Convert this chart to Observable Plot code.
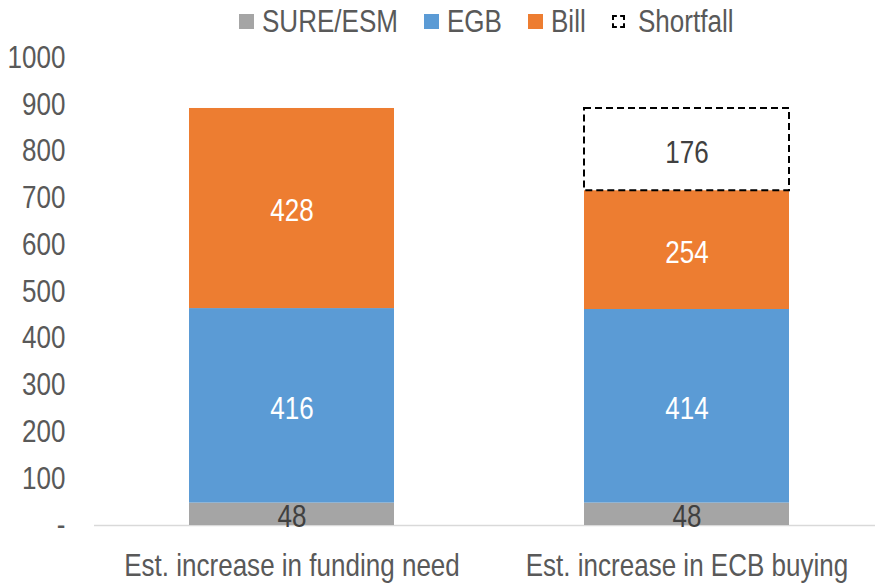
<!DOCTYPE html>
<html><head><meta charset="utf-8">
<script src="https://cdn.jsdelivr.net/npm/d3@7"></script>
<script src="https://cdn.jsdelivr.net/npm/@observablehq/plot@0.6"></script>
<style>
body{margin:0;background:#fff;font-family:"Liberation Sans",Arial,sans-serif;}
#legend{height:40px;display:flex;align-items:center;padding-left:239px;padding-top:3px;color:#595959;font-size:31px;box-sizing:border-box;}
.item{display:flex;align-items:center;margin-right:26px;white-space:nowrap;}
.sw{width:15px;height:15px;margin-right:8px;box-sizing:border-box;flex:none;}
.lt{display:inline-block;transform:scaleX(0.84);transform-origin:0 50%;}
</style></head><body>
<div id="legend"></div>
<div id="chart"></div>
<script>
const categories = ["Est. increase in funding need", "Est. increase in ECB buying"];
const series = ["SURE/ESM", "EGB", "Bill", "Shortfall"];
const colors = ["#A5A5A5", "#5B9BD5", "#ED7D31", "none"];
const sureEsm = [48, 48];
const egb = [416, 414];
const bill = [428, 254];
const shortfall = [null, 176];
const yTicks = [0, 100, 200, 300, 400, 500, 600, 700, 800, 900, 1000];

const SQUEEZE = 0.84;

const values = [sureEsm, egb, bill, shortfall];
const rows = [];
categories.forEach((c, i) => {
  series.forEach((s, j) => {
    const v = values[j][i];
    if (v != null) rows.push({category: c, series: s, value: v});
  });
});

// legend
const legend = document.getElementById("legend");
const legendTexts = [];
series.forEach((s, j) => {
  const item = document.createElement("div");
  item.className = "item";
  const sw = document.createElement("div");
  sw.className = "sw";
  if (colors[j] === "none") {
    sw.style.border = "2px dashed #000";
    sw.style.width = "13px";
    sw.style.height = "13px";
    sw.style.marginRight = "13px";
  } else {
    sw.style.background = colors[j];
  }
  const t = document.createElement("span");
  t.className = "lt";
  t.textContent = s;
  item.appendChild(sw);
  item.appendChild(t);
  legend.appendChild(item);
  legendTexts.push(t);
});
legendTexts.forEach(t => {
  const w = t.getBoundingClientRect().width / SQUEEZE;
  t.style.marginRight = (-(w * (1 - SQUEEZE))) + "px";
});

const font = '"Liberation Sans",Arial,sans-serif';
const stackOpts = {x: "category", y: "value", z: "series", order: series};

const plot = Plot.plot({
  width: 875,
  height: 543,
  marginTop: 17.5,
  marginBottom: 58,
  marginLeft: 94,
  marginRight: 0,
  style: {fontFamily: font, fontSize: "31px", color: "#595959", background: "#fff", overflow: "visible"},
  x: {domain: categories, range: [94, 884], paddingInner: 0.48, paddingOuter: 0.24, label: null},
  y: {domain: [0, 1000], label: null},
  color: {domain: series.slice(0, 3), range: colors.slice(0, 3)},
  marks: [
    Plot.ruleY([0], {stroke: "#d9d9d9", strokeWidth: 1.5}),
    Plot.barY(rows.filter(d => d.series !== "Shortfall"), Plot.stackY({...stackOpts, fill: "series"})),
    Plot.barY(rows, Plot.filter(d => d.series === "Shortfall",
      Plot.stackY({...stackOpts, fill: "none", stroke: "#000", strokeWidth: 2, strokeDasharray: "7,4"}))),
    Plot.text(rows, Plot.filter(d => d.series === "EGB" || d.series === "Bill",
      Plot.stackY({...stackOpts, text: "value", fill: "#ffffff", fontSize: 31, dy: 3}))),
    Plot.text(rows, Plot.filter(d => d.series === "SURE/ESM" || d.series === "Shortfall",
      Plot.stackY({...stackOpts, text: "value", fill: "#404040", fontSize: 31, dy: 3}))),
    Plot.axisY({ticks: yTicks, tickFormat: d => d === 0 ? "-" : String(d), tickSize: 0, tickPadding: 29, label: null}),
    Plot.axisX({tickSize: 0, tickPadding: 28, label: null})
  ]
});
document.getElementById("chart").appendChild(plot);

// horizontally condense all svg texts around their anchor (Arial Narrow look)
plot.querySelectorAll("text").forEach(t => {
  const b = t.getBBox();
  const anchor = getComputedStyle(t).textAnchor;
  const ax = anchor === "end" ? b.x + b.width : anchor === "middle" ? b.x + b.width / 2 : b.x;
  const prev = t.getAttribute("transform") || "";
  t.setAttribute("transform", `${prev} translate(${ax},0) scale(${SQUEEZE},1) translate(${-ax},0)`);
});
</script>
</body></html>
